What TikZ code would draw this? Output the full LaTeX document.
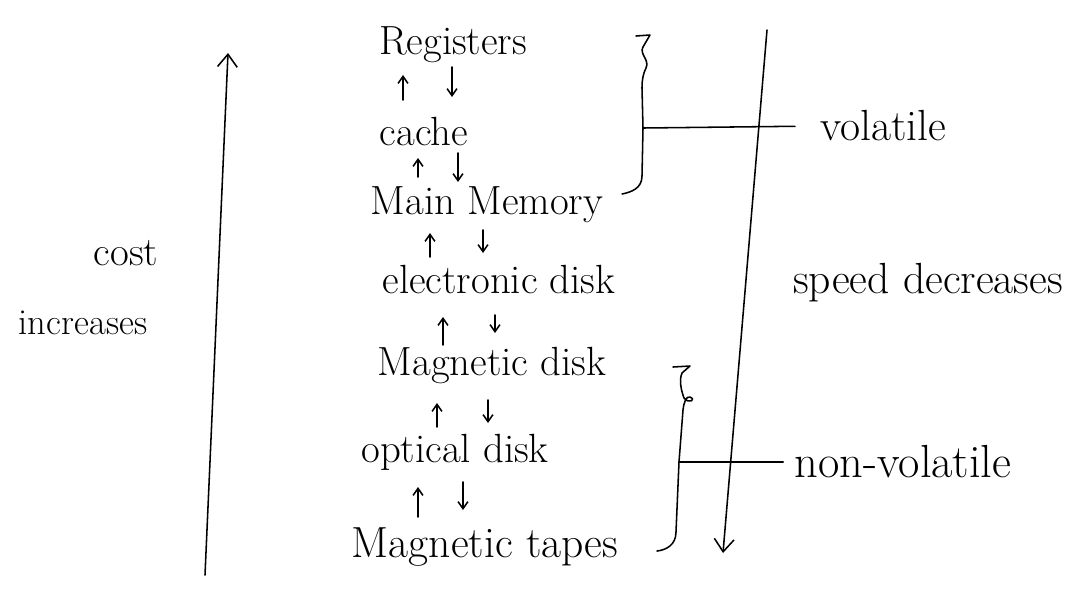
\documentclass[tikz,border=0pt]{standalone}
\usetikzlibrary{arrows.meta}
\begin{document}
\begin{tikzpicture}[x=0.025cm,y=-0.025cm,
  lvl/.style={inner sep=0pt,font=\fontsize{29}{32}\selectfont},
  lbl/.style={inner sep=0pt,font=\fontsize{31}{34}\selectfont},
  ink/.style={line width=1.1pt,line cap=round,line join=round},
  small/.style={ink,-{Straight Barb[length=5pt,width=7pt]}},
  big/.style={ink,-{Straight Barb[length=9pt,width=14pt]}}]
\useasboundingbox (0,0) rectangle (1084,588);
% levels
\node[lvl] (reg)   at (453,45)  {Registers};
\node[lvl] (cache) at (424,132) {cache};
\node[lvl] (mm)    at (487,205) {Main Memory};
\node[lvl] (ed)    at (499,280) {electronic disk};
\node[lvl] (md)    at (492,365) {Magnetic disk};
\node[lvl] (od)    at (455,452) {optical disk};
\node[lvl,font=\fontsize{31}{34}\selectfont] (mt) at (485,547) {Magnetic tapes};
% small up/down arrows
\draw[small] ([shift={(-21,-32)}]cache.center) -- ([shift={(-50,30)}]reg.center);
\draw[small] ([shift={(-1,22)}]reg.center) -- ([shift={(28,-35)}]cache.center);
\draw[small] ([shift={(-69,-28)}]mm.center) -- ([shift={(-6,26)}]cache.center);
\draw[small] ([shift={(34,21)}]cache.center) -- ([shift={(-29,-23)}]mm.center);
\draw[small] ([shift={(-69,-23)}]ed.center) -- ([shift={(-57,28)}]mm.center);
\draw[small] ([shift={(-4,25)}]mm.center) -- ([shift={(-16,-27)}]ed.center);
\draw[small] ([shift={(-49,-20)}]md.center) -- ([shift={(-56,37)}]ed.center);
\draw[small] ([shift={(-4,35)}]ed.center) -- ([shift={(3,-32)}]md.center);
\draw[small] ([shift={(-18,-25)}]od.center) -- ([shift={(-55,38)}]md.center);
\draw[small] ([shift={(-4,35)}]md.center) -- ([shift={(33,-29)}]od.center);
\draw[small] ([shift={(-67,-30)}]mt.center) -- ([shift={(-37,35)}]od.center);
\draw[small] ([shift={(8,30)}]od.center) -- ([shift={(-22,-37)}]mt.center);
% cost arrow
\node[lvl] (cost) at (126,253) {cost};
\node[lvl,font=\fontsize{26}{30}\selectfont] (inc) at (83,323) {increases};
\coordinate (c0) at (205,575);
\coordinate (c1) at (228,53);
\draw[big] (c0) -- (c1);
% speed arrow
\coordinate (s0) at (767,30);
\coordinate (s1) at (723,553);
\draw[big] (s0) -- (s1);
\node[lbl] (spd) at (928,283) {speed decreases};
% volatile bracket
\node[lbl] (vol) at (883,126) {volatile};
\coordinate (vb) at (643,128);
\draw[ink] (636,36) -- (650,35) -- (643,47)
  .. controls (639,54) and (650,60) .. (646,68)
  .. controls (643,74) and (642,80) .. (642,88)
  -- (vb) -- (642,176)
  .. controls (642,188) and (632,192) .. (622,194);
\draw[ink,shorten >=0.62cm] (vb) -- (vol.west);
% non-volatile bracket
\node[lbl,font=\fontsize{33}{36}\selectfont] (nvol) at (903,462) {non-volatile};
\coordinate (nb) at (679,462);
\draw[ink] (673,367) -- (690,366) -- (682,373)
  .. controls (679,380) and (681,390) .. (684,398)
  .. controls (688,404) and (697,400) .. (690,397)
  .. controls (686,396) and (684,402) .. (683,410)
  -- (nb) -- (676,532)
  .. controls (676,545) and (666,550) .. (657,551);
\draw[ink,shorten >=0.28cm] (nb) -- (nvol.west);
\end{tikzpicture}
\end{document}
